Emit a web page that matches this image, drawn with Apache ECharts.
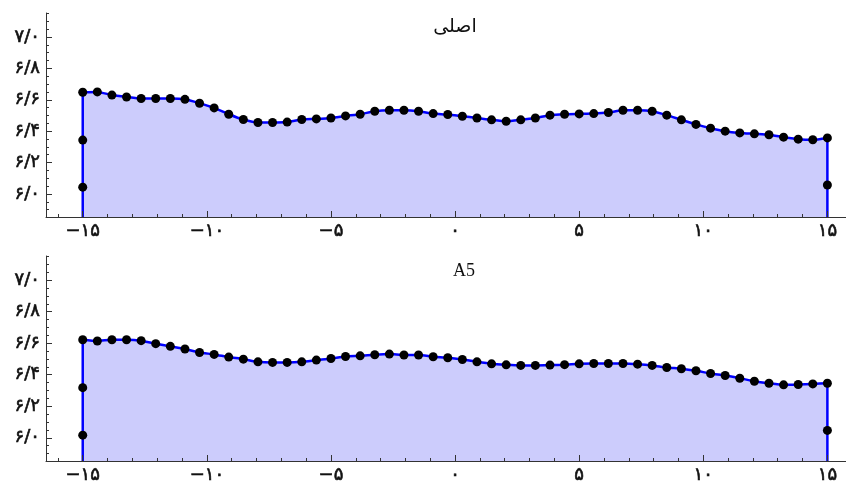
<!DOCTYPE html>
<html>
<head>
<meta charset="utf-8">
<script src="https://cdn.jsdelivr.net/npm/echarts@6/dist/echarts.min.js"></script>
<style>
html,body{margin:0;padding:0;background:#fff;}
#chart{width:846px;height:482px;}
</style>
</head>
<body>
<div id="chart"></div>
<script>
// ---- data ----
const xValues = [-15,-14.412,-13.824,-13.235,-12.647,-12.059,-11.471,-10.882,-10.294,-9.706,-9.118,-8.529,-7.941,-7.353,-6.765,-6.176,-5.588,-5,-4.412,-3.824,-3.235,-2.647,-2.059,-1.471,-0.882,-0.294,0.294,0.882,1.471,2.059,2.647,3.235,3.824,4.412,5,5.588,6.176,6.765,7.353,7.941,8.529,9.118,9.706,10.294,10.882,11.471,12.059,12.647,13.235,13.824,14.412,15];
const topValues = [6.648,6.650,6.630,6.618,6.608,6.608,6.608,6.603,6.578,6.548,6.508,6.474,6.455,6.455,6.458,6.474,6.478,6.484,6.497,6.508,6.527,6.533,6.533,6.527,6.512,6.506,6.495,6.484,6.472,6.463,6.472,6.484,6.502,6.508,6.510,6.512,6.519,6.533,6.533,6.527,6.502,6.472,6.443,6.419,6.400,6.389,6.383,6.377,6.362,6.349,6.345,6.357];
const bottomValues = [6.622,6.614,6.622,6.622,6.616,6.597,6.580,6.563,6.541,6.529,6.512,6.499,6.482,6.478,6.478,6.482,6.493,6.503,6.516,6.520,6.527,6.531,6.525,6.525,6.514,6.508,6.497,6.482,6.469,6.463,6.459,6.459,6.461,6.464,6.469,6.471,6.471,6.471,6.467,6.459,6.446,6.438,6.425,6.408,6.395,6.378,6.359,6.346,6.336,6.338,6.342,6.346];
const topLeftEdge = [6.343, 6.043];
const topRightEdge = [6.057];
const bottomLeftEdge = [6.318, 6.017];
const bottomRightEdge = [6.047];
const titles = ['اصلی', 'A5'];
const xTickValues = [-15,-10,-5,0,5,10,15];
const xTickLabels = ['−۱۵','−۱۰','−۵','۰','۵','۱۰','۱۵'];
const yTickValues = [6.0,6.2,6.4,6.6,6.8,7.0];
const yTickLabels = ['۶/۰','۶/۲','۶/۴','۶/۶','۶/۸','۷/۰'];

// ---- layout ----
const X_MIN = -16.48, X_MAX = 15.75;
const Y_MIN = 5.853, Y_MAX = 7.153;
const xMinor = []; for (let v = -16; v <= 15; v++) xMinor.push(v);
const yMinor = []; for (let k = 0; k <= 25; k++) { const v = Math.round((5.9 + 0.05*k)*1000)/1000; if (v <= Y_MAX) yMinor.push(v); }

const grids = [
  {left:46, top:13, width:800, height:204},
  {left:46, top:256, width:800, height:205}
];
const axisCol = '#333';
const labelFont = "'DejaVu Sans', 'Liberation Serif', serif";
const blue = '#0000ff';
const labelStyle = {color:'#111', fontSize:18, fontWeight:'normal', fontFamily:labelFont, textBorderColor:'#111', textBorderWidth:0.6};

const xAxes = [], yAxes = [], series = [];
grids.forEach((g, i) => {
  xAxes.push({type:'value', gridIndex:i, min:X_MIN, max:X_MAX, position:'bottom', z:10,
    splitLine:{show:false},
    axisLine:{show:true, onZero:false, lineStyle:{color:axisCol, width:1}},
    axisTick:{show:true, inside:true, length:6, customValues:xTickValues, lineStyle:{color:axisCol}},
    axisLabel:Object.assign({show:true, customValues:xTickValues, margin:5,
      formatter:(v)=>{const idx = xTickValues.findIndex(t=>Math.abs(t-v)<1e-6); return idx>=0?xTickLabels[idx]:'';}}, labelStyle)
  });
  xAxes.push({type:'value', gridIndex:i, min:X_MIN, max:X_MAX, position:'bottom', z:10,
    splitLine:{show:false}, axisLine:{show:false, onZero:false},
    axisTick:{show:true, inside:true, length:3, customValues:xMinor, lineStyle:{color:axisCol}},
    axisLabel:{show:false}
  });
  yAxes.push({type:'value', gridIndex:i, min:Y_MIN, max:Y_MAX, position:'left', z:10,
    splitLine:{show:false},
    axisLine:{show:true, onZero:false, lineStyle:{color:axisCol, width:1}},
    axisTick:{show:true, inside:true, length:6, customValues:yTickValues, lineStyle:{color:axisCol}},
    axisLabel:Object.assign({show:true, customValues:yTickValues, margin:6,
      formatter:(v)=>{const idx = yTickValues.findIndex(t=>Math.abs(t-v)<1e-6); return idx>=0?yTickLabels[idx]:'';}}, labelStyle)
  });
  yAxes.push({type:'value', gridIndex:i, min:Y_MIN, max:Y_MAX, position:'left', z:10,
    splitLine:{show:false}, axisLine:{show:false, onZero:false},
    axisTick:{show:true, inside:true, length:3, customValues:yMinor, lineStyle:{color:axisCol}},
    axisLabel:{show:false}
  });

  const ys = i === 0 ? topValues : bottomValues;
  const le = i === 0 ? topLeftEdge : bottomLeftEdge;
  const re = i === 0 ? topRightEdge : bottomRightEdge;
  const xi = i*2, yi = i*2;
  const n = xValues.length;
  series.push({type:'line', xAxisIndex:xi, yAxisIndex:yi, z:3,
    data: xValues.map((x,k)=>[x, ys[k]]),
    smooth:0.2, symbol:'circle', symbolSize:9, showSymbol:true,
    itemStyle:{color:'#000', borderWidth:0, opacity:1},
    lineStyle:{color:blue, width:2.5},
    areaStyle:{color:'#ccccfc', opacity:1, origin:'start'},
    emphasis:{disabled:true}, animation:false
  });
  series.push({type:'line', xAxisIndex:xi, yAxisIndex:yi, z:3, symbol:'none',
    data:[[xValues[0], Y_MIN],[xValues[0], ys[0]]],
    lineStyle:{color:blue, width:2.5}, animation:false});
  series.push({type:'line', xAxisIndex:xi, yAxisIndex:yi, z:3, symbol:'none',
    data:[[xValues[n-1], Y_MIN],[xValues[n-1], ys[n-1]]],
    lineStyle:{color:blue, width:2.5}, animation:false});
  series.push({type:'scatter', xAxisIndex:xi, yAxisIndex:yi, z:4, symbolSize:9,
    data: le.map(v=>[xValues[0], v]).concat(re.map(v=>[xValues[n-1], v])),
    itemStyle:{color:'#000', opacity:1}, emphasis:{disabled:true}, animation:false});
});

const chart = echarts.init(document.getElementById('chart'), null, {renderer:'canvas'});
chart.setOption({
  animation:false,
  backgroundColor:'#fff',
  title:[
    {text:titles[0], left:450, top:13, textAlign:'center', textStyle:{fontSize:19, fontWeight:'normal', color:'#111', fontFamily:"'DejaVu Sans', serif"}},
    {text:titles[1], left:459, top:257, textAlign:'center', textStyle:{fontSize:18, fontWeight:'normal', color:'#111', fontFamily:"'Liberation Serif', serif"}}
  ],
  grid: grids.map(g=>Object.assign({outerBoundsMode:'none', containLabel:false}, g)),
  xAxis: xAxes,
  yAxis: yAxes,
  series: series
});
</script>
</body>
</html>
